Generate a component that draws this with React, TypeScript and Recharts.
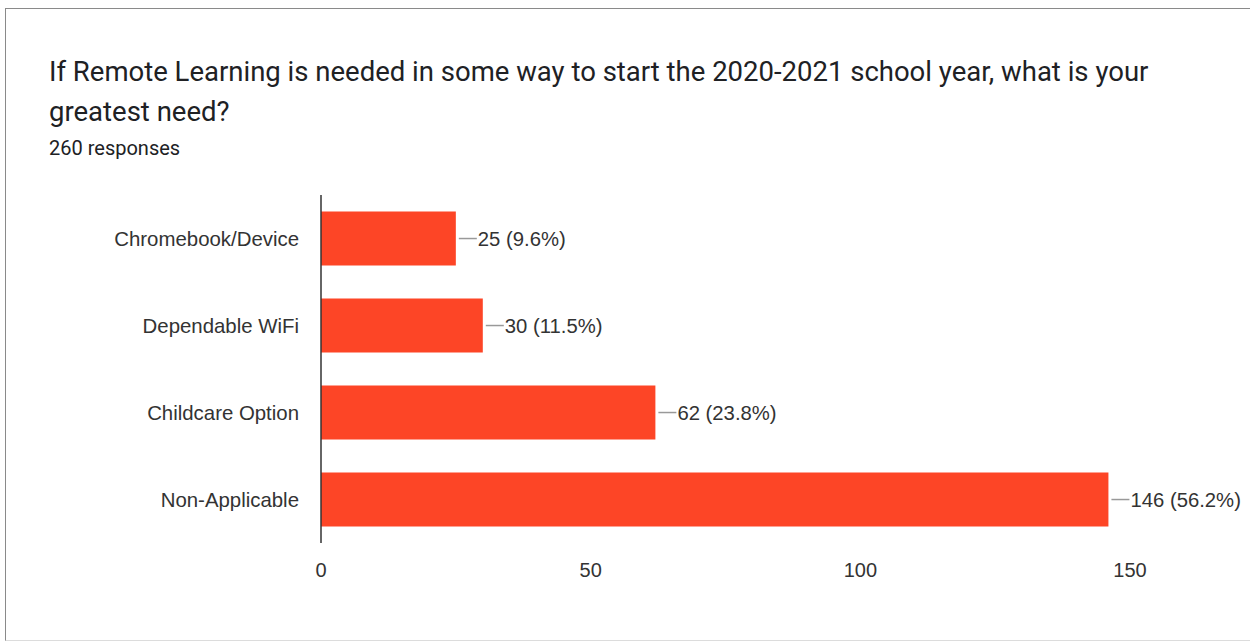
import React from "react";
import { BarChart, Bar, XAxis, YAxis, LabelList } from "recharts";

const categories = ["Chromebook/Device", "Dependable WiFi", "Childcare Option", "Non-Applicable"];
const counts = [25, 30, 62, 146];
const percents = ["9.6%", "11.5%", "23.8%", "56.2%"];
const xTicks = [0, 50, 100, 150];

const data = categories.map((name, i) => ({ name, value: counts[i], pct: percents[i] }));

const BAR_COLOR = "#fd4526";
const FONT = "'Liberation Sans', Arial, sans-serif";

const renderLabel = (props: any) => {
  const { x, y, width, height, index } = props;
  const endX = Number(x) + Number(width);
  const cy = Number(y) + Number(height) / 2;
  const d = data[index];
  return (
    <g>
      <line x1={endX + 3} y1={cy} x2={endX + 21} y2={cy} stroke="#999" strokeWidth={1.5} />
      <text x={endX + 22} y={cy} dy="0.36em" fill="#333" fontSize={20.3} fontFamily={FONT}>
        {`${d.value} (${d.pct})`}
      </text>
    </g>
  );
};

export default function App() {
  return (
    <div
      style={{
        position: "absolute",
        left: 0,
        top: 0,
        width: 1250,
        height: 643,
        background: "#fff",
        overflow: "hidden",
      }}
    >
      <div
        style={{
          position: "absolute",
          left: 5,
          top: 8,
          width: 1250,
          height: 633,
          borderLeft: "1.5px solid #8a8a8a",
          borderTop: "1.5px solid #8a8a8a",
          borderBottom: "1px solid #dcdcdc",
          boxSizing: "border-box",
        }}
      />
      <div
        style={{
          position: "absolute",
          left: 49,
          top: 52,
          fontFamily: "Roboto, 'Open Sans', sans-serif",
          fontSize: 27.5,
          lineHeight: "40px",
          color: "#202124",
          whiteSpace: "nowrap",
        }}
      >
        If Remote Learning is needed in some way to start the 2020-2021 school year, what is your
        <br />
        greatest need?
      </div>
      <div
        style={{
          position: "absolute",
          left: 49,
          top: 135,
          fontFamily: "Roboto, 'Open Sans', sans-serif",
          fontSize: 20,
          lineHeight: "26px",
          color: "#202124",
          whiteSpace: "nowrap",
        }}
      >
        260 responses
      </div>
      <div style={{ position: "absolute", left: 0, top: 0 }}>
        <BarChart
          width={1250}
          height={643}
          data={data}
          layout="vertical"
          margin={{ top: 195, right: 120, bottom: 70, left: 0 }}
          barCategoryGap="19%"
        >
          <XAxis
            type="number"
            domain={[0, 150]}
            ticks={xTicks}
            axisLine={false}
            tickLine={false}
            tickMargin={14}
            height={30}
            tick={{ fill: "#333", fontSize: 20, fontFamily: FONT }}
          />
          <YAxis
            type="category"
            dataKey="name"
            width={321}
            axisLine={{ stroke: "#333", strokeWidth: 1.5 }}
            tickLine={false}
            tickMargin={16}
            tick={{ fill: "#333", fontSize: 20.4, fontFamily: FONT }}
          />
          <Bar dataKey="value" fill={BAR_COLOR} isAnimationActive={false}>
            <LabelList dataKey="value" content={renderLabel} />
          </Bar>
        </BarChart>
      </div>
    </div>
  );
}
